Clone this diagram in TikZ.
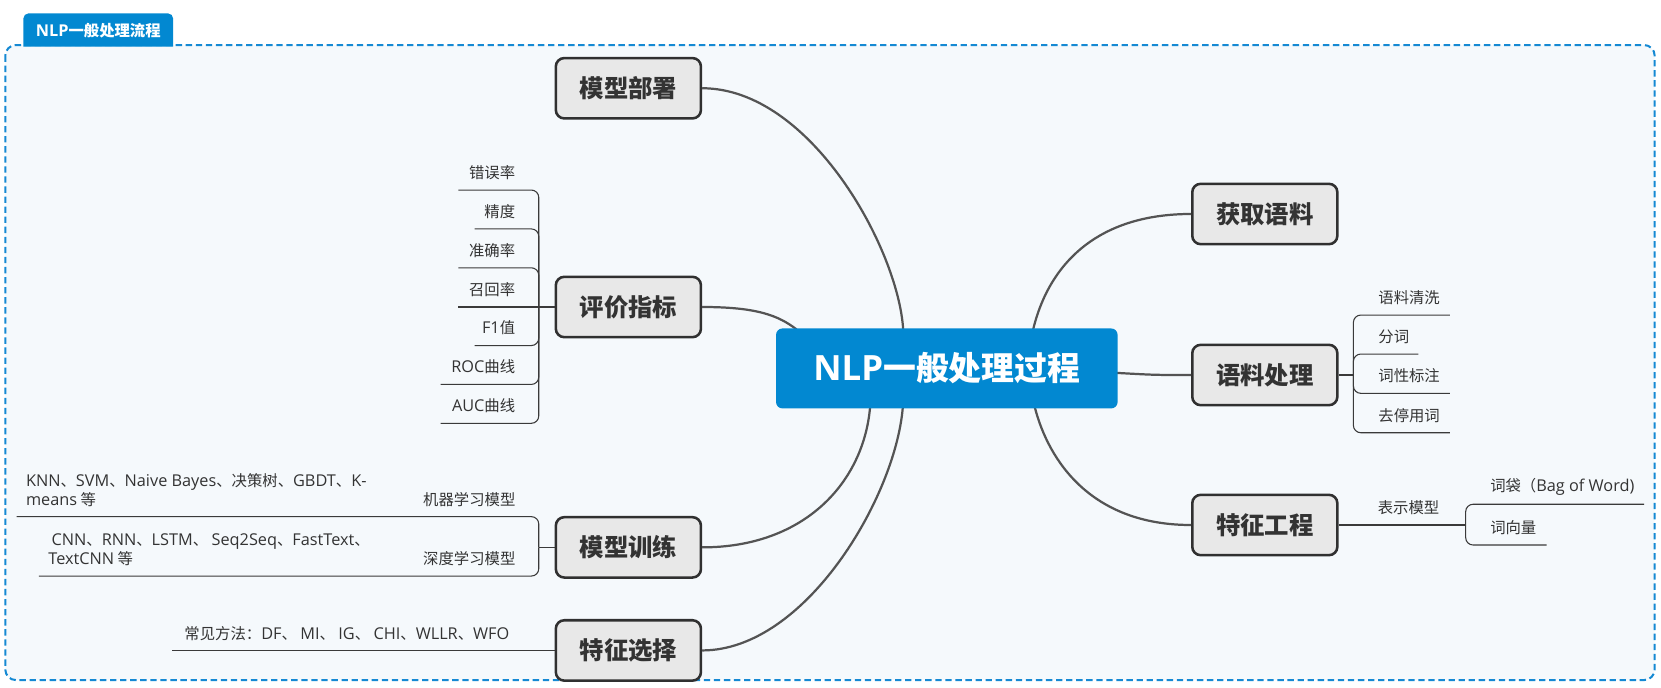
\documentclass[tikz,border=0pt]{standalone}
\usepackage{fontspec}
\setmainfont{Noto Sans CJK SC}
\newfontfamily\latf[Scale=1.06]{Open Sans}
\newcommand\LT[1]{{\latf #1}}
\definecolor{blueA}{HTML}{0288D1}
\definecolor{frameC}{HTML}{1589D3}
\definecolor{bgC}{HTML}{F5F9FC}
\definecolor{boxF}{HTML}{E8E8E8}
\definecolor{boxD}{HTML}{303030}
\definecolor{connC}{HTML}{545454}
\definecolor{thinC}{HTML}{3A3A3A}
\definecolor{txtC}{HTML}{333333}
\begin{document}
\begin{tikzpicture}[x=1pt,y=-1pt,
  mainbox/.style={draw=boxD, fill=boxF, line width=2.4pt, rounded corners=8pt,
    minimum width=137pt, minimum height=57pt, inner sep=0pt,
    font=\bfseries\fontsize{23}{26}\selectfont, text=txtC},
  centerbox/.style={fill=blueA, rounded corners=6pt, minimum width=322.4pt,
    minimum height=75.5pt, inner sep=0pt, font=\bfseries\fontsize{31}{34}\selectfont, text=white},
  leaf/.style={inner sep=0pt, font=\fontsize{14.5}{18}\selectfont, text=txtC},
  conn/.style={draw=connC, line width=2.1pt},
  thinline/.style={draw=thinC, line width=1pt},
  brk/.style={draw=thinC, line width=1pt, rounded corners=7pt},
  framebox/.style={draw=frameC, line width=1.9pt, dash pattern=on 6pt off 3.5pt, fill=bgC, rounded corners=10pt}
]
\useasboundingbox (0,0) rectangle (1568,649);
% frame and tab
\path[framebox] (5,42.5) rectangle (1562,642);
\fill[blueA] (22,44) [rounded corners=5pt] -- (22,12.6) -- (163.5,12.6) [sharp corners] -- (163.5,44) -- cycle;
\node[inner sep=0pt, text=white, font=\bfseries\fontsize{14.5}{16}\selectfont] (tab) at (92.8,28.5) {\LT{NLP}一般处理流程};

% coordinates on the central node
\coordinate (cA) at (852.6,311);
\coordinate (cB) at (752,311);
\coordinate (cC) at (821.3,385);
\coordinate (cD) at (852.2,385);
\coordinate (cE) at (975.3,311);
\coordinate (cF) at (1054,352);
\coordinate (cG) at (977,385);

% main nodes
\node[mainbox] (deploy) at (593.2,83.3) {模型部署};
\node[mainbox] (eval) at (593.2,289.8) {评价指标};
\node[mainbox] (train) at (593.2,516.7) {模型训练};
\node[mainbox] (fsel) at (593.2,614) {特征选择};
\node[mainbox] (corpus) at (1194,202) {获取语料};
\node[mainbox] (proc) at (1194,354) {语料处理};
\node[mainbox] (feng) at (1194,495.6) {特征工程};

% main connectors
\draw[conn] (deploy.east) .. controls (765,83.3) and (848,235) .. (cA);
\draw[conn] (eval.east) .. controls (715,289.8) and (735,298) .. (cB);
\draw[conn] (train.east) .. controls (760,516.7) and (815,455) .. (cC);
\draw[conn] (fsel.east) .. controls (760,614) and (845,470) .. (cD);
\draw[conn] (corpus.west) .. controls (1035,202) and (990,250) .. (cE);
\draw[conn] (cF) .. controls (1090,354) .. (proc.west);
\draw[conn] (feng.west) .. controls (1030,495.6) and (990,435) .. (cG);

\node[centerbox] (center) at (893.8,347.8) {\LT{NLP}一般处理过程};

% ---------- 评价指标 children ----------
\coordinate (eb) at (508.6,289.8);
\coordinate (e1) at (432.8,179.4);
\coordinate (e2) at (448,216.1);
\coordinate (e3) at (432.8,252.8);
\coordinate (e4) at (432.8,289.8);
\coordinate (e5) at (448,326.2);
\coordinate (e6) at (416,362.9);
\coordinate (e7) at (416,399.6);
\draw[thinline] (eval.west) -- (eb);
\draw[brk] (eb) -- (eb |- e1) -- (e1);
\draw[brk] (eb) -- (eb |- e2) -- (e2);
\draw[brk] (eb) -- (eb |- e3) -- (e3);
\draw[thinline] (eb) -- (e4);
\draw[brk] (eb) -- (eb |- e5) -- (e5);
\draw[brk] (eb) -- (eb |- e6) -- (e6);
\draw[brk] (eb) -- (eb |- e7) -- (e7);
\node[leaf, anchor=east] (n1) at (486.5,162.9) {错误率};
\node[leaf, anchor=east] (n2) at (486.5,199.6) {精度};
\node[leaf, anchor=east] (n3) at (486.5,236.3) {准确率};
\node[leaf, anchor=east] (n4) at (486.5,273.0) {召回率};
\node[leaf, anchor=east] (n5) at (486.5,309.7) {\LT{F1}值};
\node[leaf, anchor=east] (n6) at (486.5,346.4) {\LT{ROC}曲线};
\node[leaf, anchor=east] (n7) at (486.5,383.1) {\LT{AUC}曲线};

% ---------- 模型训练 children ----------
\coordinate (tb) at (508.6,516.7);
\coordinate (t1) at (15.6,487.7);
\coordinate (t2) at (36.7,543.8);
\draw[thinline] (train.west) -- (tb);
\draw[brk] (tb) -- (tb |- t1) -- (t1);
\draw[brk] (tb) -- (tb |- t2) -- (t2);
\node[leaf, anchor=east] (m1) at (486.7,471.2) {机器学习模型};
\node[leaf, anchor=east] (m2) at (486.7,527.3) {深度学习模型};
\node[leaf, anchor=west, align=left] (k1) at (24.4,463) {\LT{KNN}、\LT{SVM}、\LT{Naive Bayes}、决策树、\LT{GBDT}、\LT{K-}\\\LT{means} 等};
\node[leaf, anchor=west, align=left] (k2) at (45.5,519) {\hspace{3pt}\LT{CNN}、\LT{RNN}、\LT{LSTM}、 \LT{Seq2Seq}、\LT{FastText}、\\\LT{TextCNN} 等};

% ---------- 特征选择 child ----------
\coordinate (s1) at (162,614);
\draw[thinline] (fsel.west) -- (s1);
\node[leaf, anchor=east] (sx) at (481,597.8) {常见方法：\LT{DF}、 \LT{MI}、 \LT{IG}、 \LT{CHI}、\LT{WLLR}、\LT{WFO}};

% ---------- 语料处理 children ----------
\coordinate (pb) at (1277.6,354);
\coordinate (p1) at (1368.7,297.4);
\coordinate (p2) at (1339,334.2);
\coordinate (p3) at (1368.7,371.3);
\coordinate (p4) at (1368.7,408.5);
\draw[thinline] (proc.east) -- (pb);
\draw[brk] (pb) -- (pb |- p1) -- (p1);
\draw[brk] (pb) -- (pb |- p2) -- (p2);
\draw[brk] (pb) -- (pb |- p3) -- (p3);
\draw[brk] (pb) -- (pb |- p4) -- (p4);
\node[leaf, anchor=west] (q1) at (1301,280.9) {语料清洗};
\node[leaf, anchor=west] (q2) at (1301,317.7) {分词};
\node[leaf, anchor=west] (q3) at (1301,354.8) {词性标注};
\node[leaf, anchor=west] (q4) at (1301,392.0) {去停用词};

% ---------- 特征工程 children ----------
\coordinate (fb) at (1383.6,495.6);
\coordinate (f1) at (1552,476);
\coordinate (f2) at (1460,514.5);
\draw[thinline] (feng.east) -- (fb);
\draw[brk] (fb) -- (fb |- f1) -- (f1);
\draw[brk] (fb) -- (fb |- f2) -- (f2);
\node[leaf, anchor=west] (g0) at (1300.5,479.3) {表示模型};
\node[leaf, anchor=west] (g1) at (1406.6,459.8) {词袋（\LT{Bag of Word)}};
\node[leaf, anchor=west] (g2) at (1406.6,498.2) {词向量};
\end{tikzpicture}
\end{document}
